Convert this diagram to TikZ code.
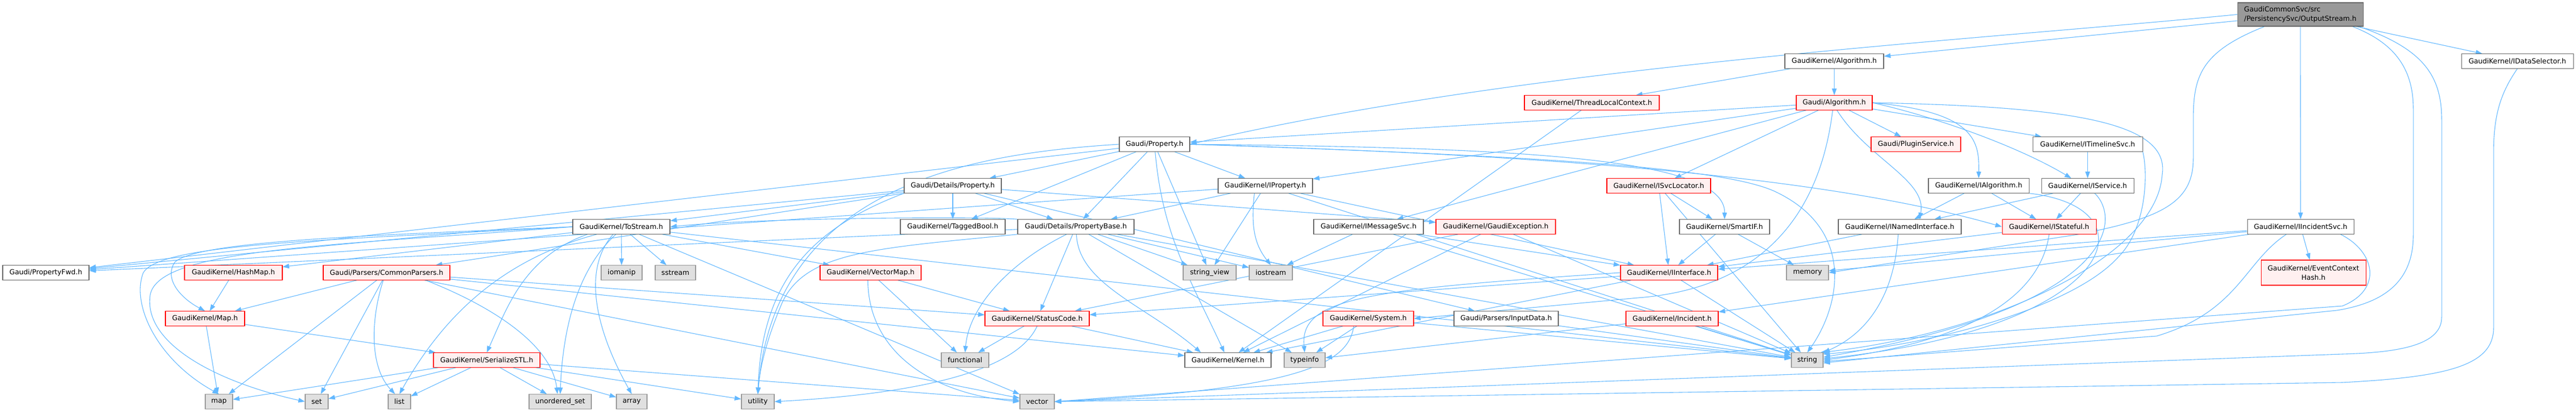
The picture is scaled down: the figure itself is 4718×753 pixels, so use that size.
\documentclass[tikz,border=0pt]{standalone}
\usepackage{fontspec}
\newfontfamily\dvs{DejaVu Sans}
\usetikzlibrary{arrows.meta,backgrounds}
\definecolor{edgec}{HTML}{63B8FF}
\definecolor{redfill}{HTML}{FFF0F0}
\definecolor{sysfill}{HTML}{E0E0E0}
\definecolor{gfour}{HTML}{666666}
\definecolor{gsix}{HTML}{999999}
\tikzset{
  ndbase/.style={draw, rectangle, inner sep=0pt, line width=1.1pt, font=\dvs\fontsize{12.7}{17}\selectfont, text=black, minimum height=26.5pt},
  ndnorm/.style={ndbase, draw=gfour, fill=white},
  ndred/.style={ndbase, draw=red, fill=redfill},
  ndsys/.style={ndbase, draw=gsix, fill=sysfill},
  ndroot/.style={ndbase, draw=gfour, fill=gsix},
  dep/.style={draw=edgec, line width=1.1pt, -{Triangle[length=12pt,width=8.5pt]}},
}
\newcommand{\mknode}[6]{\node[#5, minimum width={(#3-#2)*1pt}] (#1) at ({(#2+#3)/2},#4) {#6};}
\begin{document}
\begin{tikzpicture}[x=1pt,y=-1pt]
\useasboundingbox (0,0) rectangle (4718,753);
% ---------------- nodes ----------------
\node[ndroot, minimum width=230pt, minimum height=43pt, align=left] (T) at (4213,26.5) {GaudiCommonSvc/src\\/PersistencySvc/OutputStream.h};
\mknode{AlgK}{3269}{3450}{112}{ndnorm}{GaudiKernel/Algorithm.h}
\mknode{IDS}{4508}{4713}{112}{ndnorm}{GaudiKernel/IDataSelector.h}
\mknode{GAlg}{3290}{3429}{188}{ndred}{Gaudi/Algorithm.h}
\mknode{TLC}{2792}{3039}{188}{ndred}{GaudiKernel/ThreadLocalContext.h}
\mknode{P}{2050}{2179}{264}{ndnorm}{Gaudi/Property.h}
\mknode{PS}{3427}{3591}{264}{ndred}{Gaudi/PluginService.h}
\mknode{ITL}{3723}{3924}{264}{ndnorm}{GaudiKernel/ITimelineSvc.h}
\mknode{DP}{1656}{1834}{340}{ndnorm}{Gaudi/Details/Property.h}
\mknode{IP}{2231}{2404}{340}{ndnorm}{GaudiKernel/IProperty.h}
\mknode{ISL}{2943}{3133}{340}{ndred}{GaudiKernel/ISvcLocator.h}
\mknode{IA}{3532}{3716}{340}{ndnorm}{GaudiKernel/IAlgorithm.h}
\mknode{IS}{3739}{3908}{340}{ndnorm}{GaudiKernel/IService.h}
\mknode{TS}{1049}{1227}{415}{ndnorm}{GaudiKernel/ToStream.h}
\mknode{TB}{1649}{1841}{415}{ndnorm}{GaudiKernel/TaggedBool.h}
\mknode{PB}{1864}{2077}{415}{ndnorm}{Gaudi/Details/PropertyBase.h}
\mknode{IMS}{2406}{2607}{415}{ndnorm}{GaudiKernel/IMessageSvc.h}
\mknode{GE}{2630}{2849}{415}{ndred}{GaudiKernel/GaudiException.h}
\mknode{SIF}{3076}{3241}{415}{ndnorm}{GaudiKernel/SmartIF.h}
\mknode{INI}{3367}{3592}{415}{ndnorm}{GaudiKernel/INamedInterface.h}
\mknode{IST}{3667}{3839}{415}{ndred}{GaudiKernel/IStateful.h}
\mknode{IIS}{4116}{4311}{415}{ndnorm}{GaudiKernel/IIncidentSvc.h}
\mknode{PF}{5}{163}{499}{ndnorm}{Gaudi/PropertyFwd.h}
\mknode{HM}{338}{517}{499}{ndred}{GaudiKernel/HashMap.h}
\mknode{CP}{592}{824}{499}{ndred}{Gaudi/Parsers/CommonParsers.h}
\mknode{niomanip}{1101}{1176}{499}{ndsys}{iomanip}
\mknode{nsstream}{1200}{1274}{499}{ndsys}{sstream}
\mknode{VM}{1502}{1687}{499}{ndred}{GaudiKernel/VectorMap.h}
\mknode{nsv}{2167}{2264}{499}{ndsys}{string\_view}
\mknode{nios}{2288}{2367}{499}{ndsys}{iostream}
\mknode{II}{2968}{3146}{499}{ndred}{GaudiKernel/IInterface.h}
\mknode{nmem}{3272}{3349}{499}{ndsys}{memory}
\node[ndred, minimum width=192pt, minimum height=46pt, align=center] (ECH) at (4237,499) {GaudiKernel/EventContext\\Hash.h};
\mknode{Map}{303}{448}{583}{ndred}{GaudiKernel/Map.h}
\mknode{SC}{1804}{1995}{583}{ndred}{GaudiKernel/StatusCode.h}
\mknode{Sys}{2423}{2589}{583}{ndred}{GaudiKernel/System.h}
\mknode{ID}{2663}{2854}{583}{ndnorm}{Gaudi/Parsers/InputData.h}
\mknode{Inc}{2978}{3147}{583}{ndred}{GaudiKernel/Incident.h}
\mknode{SSTL}{794}{989}{659}{ndred}{GaudiKernel/SerializeSTL.h}
\mknode{nfunc}{1724}{1811}{659}{ndsys}{functional}
\mknode{ntype}{2352}{2427}{659}{ndsys}{typeinfo}
\mknode{Kern}{2170}{2328}{659}{ndnorm}{GaudiKernel/Kernel.h}
\mknode{nstr}{3281}{3339}{659}{ndsys}{string}
\mknode{nmap}{376}{426}{735}{ndsys}{map}
\mknode{nset}{559}{601}{735}{ndsys}{set}
\mknode{nlist}{711}{752}{735}{ndsys}{list}
\mknode{nuset}{969}{1083}{735}{ndsys}{unordered\_set}
\mknode{narr}{1129}{1185}{735}{ndsys}{array}
\mknode{nutil}{1358}{1418}{735}{ndsys}{utility}
\mknode{nvec}{1868}{1931}{735}{ndsys}{vector}
% ---------------- edges ----------------
\begin{scope}[on background layer]
% OutputStream
\draw[dep] (T) -- (AlgK);
\draw[dep] (T) -- (IDS);
\draw[dep] (T) -- (IIS);
\draw[dep] (T.west) .. controls (3600,75) and (2800,120) .. (P.east);
\draw[dep] ([xshift=50pt]T.south west) .. controls (4030,95) and (4017,140) .. (4017,220) -- (4017,290) .. controls (4017,370) and (3960,400) .. (3800,430) -- (nmem.east);
\draw[dep] ([xshift=-20pt]T.south east) .. controls (4390,80) and (4420,130) .. (4420,200) -- (4420,430) .. controls (4420,520) and (4360,555) .. (4280,568) -- (nstr.-10);
\draw[dep] ([xshift=-8pt]T.south east) .. controls (4440,90) and (4472,140) .. (4472,220) -- (4472,580) .. controls (4472,630) and (4400,645) .. (4290,648) -- (nvec.east);
\draw[dep] (IDS.south) .. controls (4580,170) and (4567,210) .. (4567,280) -- (4567,600) .. controls (4567,670) and (4480,690) .. (4290,700) -- (nvec.east);
% GaudiKernel/Algorithm.h
\draw[dep] (AlgK) -- (GAlg);
\draw[dep] (AlgK) -- (TLC);
% Gaudi/Algorithm.h
\draw[dep] (GAlg) -- (PS);
\draw[dep] (GAlg) -- (P);
\draw[dep] (GAlg) -- (ITL);
\draw[dep] (GAlg.east) .. controls (3620,205) and (3625,260) .. (IA.north);
\draw[dep] (GAlg.east) .. controls (3550,215) and (3700,270) .. ([xshift=-30pt]IS.north);
\draw[dep] (GAlg) -- (ISL);
\draw[dep] (GAlg) -- (IP);
\draw[dep] (GAlg) -- (IMS);
\draw[dep] ([xshift=75pt]GAlg.south west) .. controls (3420,290) and (3530,330) .. ([xshift=36pt]INI.north);
\draw[dep] ([xshift=-3pt]GAlg.south) .. controls (3330,420) and (3200,530) .. (3000,545) -- (Sys.east);
\draw[dep] (GAlg.east) .. controls (3800,195) and (3975,225) .. (3960,320) .. controls (3950,470) and (3650,610) .. (nstr.30);
% ITimelineSvc
\draw[dep] (ITL) -- (IS);
\draw[dep] (ITL.south east) .. controls (3935,320) and (3930,420) .. (3880,470) .. controls (3800,560) and (3550,630) .. (nstr.20);
% Gaudi/Property.h
\draw[dep] (P) -- (PF);
\draw[dep] (P) -- (DP);
\draw[dep] (P) -- (PB);
\draw[dep] (P) -- (IP);
\draw[dep] (P) -- (TB);
\draw[dep] (P) -- (nsv);
\draw[dep] (P) to[out=-85,in=115] (Kern);
\draw[dep] (P.west) .. controls (1800,280) and (1420,330) .. (nutil.north);
\draw[dep] (P.east) .. controls (2700,280) and (3300,310) .. (IST.west);
\draw[dep] (P.east) .. controls (2800,270) and (3160,290) .. (SIF.north);
\draw[dep] (P.east) .. controls (2800,285) and (3150,305) .. (3250,350) .. controls (3400,420) and (3370,560) .. (nstr.north);
% Gaudi/Details/Property.h
\draw[dep] (DP) -- (TB);
\draw[dep] (DP) -- (PB);
\draw[dep] (DP) -- (TS);
\draw[dep] (DP) -- (CP);
\draw[dep] (DP) -- (GE);
\draw[dep] (DP) -- (ID);
\draw[dep] (DP) -- (PF);
\draw[dep] (DP.south west) .. controls (1480,420) and (1395,520) .. (nutil.north);
% IProperty
\draw[dep] (IP) -- (PF);
\draw[dep] (IP) -- (PB);
\draw[dep] (IP) -- (nsv);
\draw[dep] ([xshift=67pt]IP.south west) .. controls (2290,420) and (2300,450) .. (nios.north);
\draw[dep] (IP) -- (II);
\draw[dep] (IP) -- (nstr);
% ISvcLocator
\draw[dep] (ISL) -- (II);
\draw[dep] (ISL) -- (SIF);
\draw[dep] (ISL) -- (nstr);
% IAlgorithm, IService
\draw[dep] (IA) -- (INI);
\draw[dep] (IA) -- (IST);
\draw[dep] (IA.south east) .. controls (3950,380) and (3880,600) .. (nstr.5);
\draw[dep] (IS) -- (INI);
\draw[dep] (IS) -- (IST);
\draw[dep] ([xshift=98pt]IS.south west) .. controls (3885,400) and (3880,560) .. (nstr.10);
% ToStream
\draw[dep] (TS) -- (niomanip);
\draw[dep] (TS) -- (nsstream);
\draw[dep] (TS) -- (HM);
\draw[dep] (TS) -- (VM);
\draw[dep] (TS.west) .. controls (700,430) and (360,440) .. (320,480) .. controls (300,510) and (330,545) .. (Map.north);
\draw[dep] (TS.west) .. controls (600,440) and (290,445) .. (262,500) .. controls (240,560) and (290,660) .. (nmap.north);
\draw[dep] (TS.west) .. controls (600,450) and (290,455) .. (275,540) .. controls (262,630) and (400,700) .. (nset.west);
\draw[dep] ([xshift=-45pt]TS.south) .. controls (900,480) and (800,600) .. (nlist.north);
\draw[dep] ([xshift=-62pt]TS.south) .. controls (960,470) and (930,560) .. (SSTL.north);
\draw[dep] ([xshift=-10pt]TS.south) .. controls (1050,500) and (1030,620) .. (nuset.north);
\draw[dep] ([xshift=-15pt]TS.south) .. controls (1060,500) and (1100,620) .. (narr.north);
\draw[dep] (TS) -- (nvec);
\draw[dep] (TS) -- (nstr);
% PropertyBase
\draw[dep] (PB) -- (PF);
\draw[dep] (PB) -- (SC);
\draw[dep] ([xshift=90pt]PB.south west) .. controls (1850,480) and (1775,560) .. (nfunc.north);
\draw[dep] ([xshift=108pt]PB.south west) .. controls (1975,520) and (2100,560) .. ([xshift=30pt]Kern.north west);
\draw[dep] (PB) -- (nsv);
\draw[dep] (PB) -- (nios);
\draw[dep] (PB) -- (ntype);
\draw[dep] (PB) -- (nstr);
\draw[dep] (PB.south west) .. controls (1600,455) and (1470,460) .. (1430,560) .. controls (1405,620) and (1392,670) .. (nutil.north);
\draw[dep] (PB.north west) .. controls (1800,396) and (1400,398) .. (TS.east);
% VectorMap
\draw[dep] (VM) -- (SC);
\draw[dep] (VM) -- (nfunc);
\draw[dep] ([xshift=-5pt]VM.south) .. controls (1590,640) and (1700,720) .. (nvec.west);
% CommonParsers
\draw[dep] (CP) -- (Map);
\draw[dep] (CP) -- (nmap);
\draw[dep] (CP) -- (nset);
\draw[dep] ([xshift=-6pt]CP.south) .. controls (680,580) and (675,670) .. ([xshift=-8pt]nlist.north);
\draw[dep] ([xshift=-45pt]CP.south east) .. controls (900,560) and (1010,630) .. ([xshift=-5pt]nuset.north);
\draw[dep] (CP) -- (SC);
\draw[dep] (CP) -- (nvec);
\draw[dep] (CP) -- (Kern);
% HashMap, Map
\draw[dep] (HM) -- (Map);
\draw[dep] (Map) -- (nmap);
\draw[dep] (Map) -- (SSTL);
% SerializeSTL
\draw[dep] (SSTL) -- (nmap);
\draw[dep] (SSTL) -- (nset);
\draw[dep] (SSTL) -- (nlist);
\draw[dep] (SSTL) -- (nuset);
\draw[dep] (SSTL) -- (narr);
\draw[dep] (SSTL) -- (nutil);
\draw[dep] (SSTL) -- (nvec);
% StatusCode
\draw[dep] (SC) -- (nfunc);
\draw[dep] (SC) -- (Kern);
\draw[dep] (SC.south) .. controls (1875,650) and (1780,715) .. (nutil.east);
% System
\draw[dep] (Sys) -- (Kern);
\draw[dep] (Sys) -- (ntype);
\draw[dep] (Sys) -- (nstr);
\draw[dep] ([xshift=57pt]Sys.south west) .. controls (2470,660) and (2400,712) .. (nvec.east);
% InputData, Incident
\draw[dep] (ID) -- (nstr);
\draw[dep] (Inc) -- (nstr);
\draw[dep] (Inc) -- (ntype);
% IInterface
\draw[dep] (II) -- (Kern);
\draw[dep] (II) -- (SC);
\draw[dep] (II.west) .. controls (2500,530) and (2380,545) .. (ntype.north);
\draw[dep] (II) -- (nstr);
% GaudiException
\draw[dep] (GE) -- (SC);
\draw[dep] (GE) -- (Kern);
\draw[dep] (GE) -- (nstr);
% IMessageSvc
\draw[dep] (IMS) -- (II);
\draw[dep] (IMS) -- (nios);
\draw[dep] (IMS) -- (nstr);
% ThreadLocalContext
\draw[dep] (TLC) -- (Kern);
% INamedInterface, IStateful, SmartIF
\draw[dep] (INI) -- (II);
\draw[dep] ([xshift=110pt]INI.south west) .. controls (3470,540) and (3420,610) .. (nstr.north east);
\draw[dep] (IST) -- (II);
\draw[dep] (IST.south) .. controls (3740,520) and (3650,620) .. (nstr.east);
\draw[dep] (SIF) -- (II);
\draw[dep] (SIF) -- (nmem);
% IIncidentSvc
\draw[dep] (IIS) -- (ECH);
\draw[dep] (IIS) -- (II);
\draw[dep] (IIS) -- (nmem);
\draw[dep] (IIS) -- (Inc);
\draw[dep] ([xshift=72pt]IIS.south west) .. controls (4110,480) and (4100,570) .. (3950,615) -- (nstr.-5);
\draw[dep] ([xshift=-25pt]IIS.south east) .. controls (4350,460) and (4365,530) .. (4290,560) -- (nvec.east);
\end{scope}
\end{tikzpicture}
\end{document}
